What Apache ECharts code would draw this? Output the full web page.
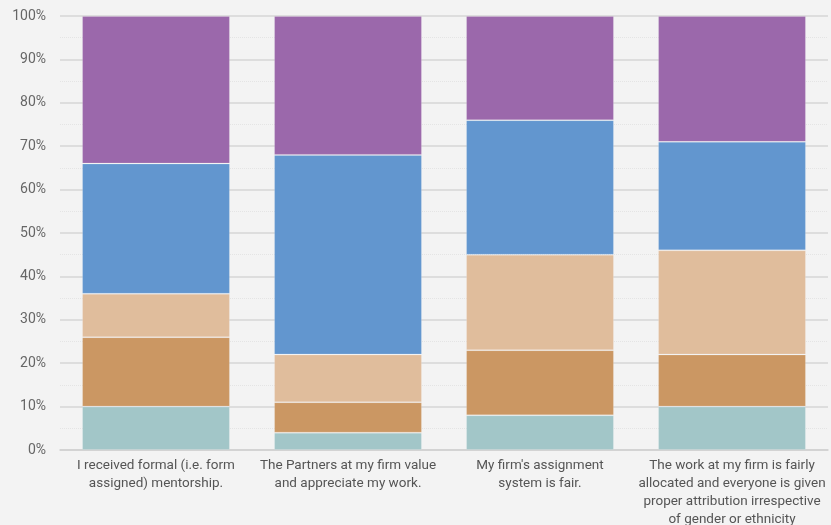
<!DOCTYPE html>
<html>
<head>
<meta charset="utf-8">
<script src="https://cdn.jsdelivr.net/npm/echarts@6/dist/echarts.min.js"></script>
<style>
  html, body { margin: 0; padding: 0; background: #f3f3f3; }
  #chart { width: 831px; height: 525px; }
</style>
</head>
<body>
<div id="chart"></div>
<script>
// question labels (line breaks as in the picture)
const categories = [
  'I received formal (i.e. form\nassigned) mentorship.',
  'The Partners at my firm value\nand appreciate my work.',
  "My firm's assignment\nsystem is fair.",
  'The work at my firm is fairly\nallocated and everyone is given\nproper attribution irrespective\nof gender or ethnicity'
];

// percentages per answer band, bottom to top
const band1 = [10, 4, 8, 10];
const band2 = [16, 7, 15, 12];
const band3 = [10, 11, 22, 24];
const band4 = [30, 46, 31, 25];
const band5 = [34, 32, 24, 29];

const colors = ['#a2c6c8', '#cb9763', '#e0bd9c', '#6296cf', '#9b68ab'];

const chart = echarts.init(document.getElementById('chart'));

const bands = [band1, band2, band3, band4, band5];
const series = bands.map((vals, i) => ({
  type: 'bar',
  stack: 'total',
  data: vals,
  barWidth: '77%',
  itemStyle: { color: colors[i], borderColor: 'rgba(255,255,255,0.15)', borderWidth: 1 }
}));

chart.setOption({
  backgroundColor: '#f3f3f3',
  animation: false,
  grid: { left: 60, right: 3, top: 16, bottom: 75, outerBoundsMode: 'none', containLabel: false },
  xAxis: {
    type: 'category',
    data: categories,
    axisLine: { show: true, lineStyle: { color: '#d0d0d0', width: 1.5 } },
    axisTick: { show: false },
    axisLabel: {
      color: '#555',
      fontFamily: 'Roboto',
      fontSize: 13.5,
      lineHeight: 18,
      margin: 7,
      interval: 0
    }
  },
  yAxis: {
    type: 'value',
    min: 0,
    max: 100,
    interval: 10,
    axisLine: { show: false },
    axisTick: { show: false },
    axisLabel: {
      formatter: '{value}%',
      color: '#666',
      fontFamily: 'Roboto',
      fontSize: 14,
      margin: 14
    },
    splitLine: { lineStyle: { color: '#d6d6d6', width: 1.5 } },
    minorTick: { show: false, splitNumber: 2 },
    minorSplitLine: { show: true, lineStyle: { color: '#e4e4e4', width: 1, type: 'dotted' } }
  },
  series: series
});
</script>
</body>
</html>
